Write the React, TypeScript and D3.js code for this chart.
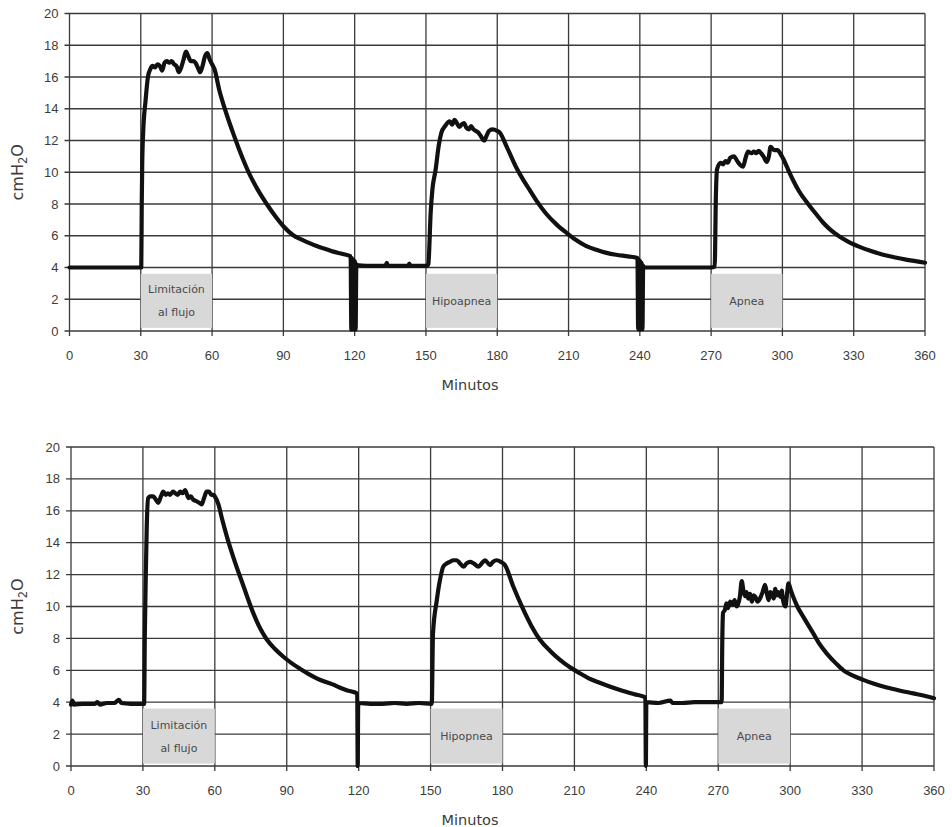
import React from "react";
import * as d3 from "d3";

const xTicks = [0, 30, 60, 90, 120, 150, 180, 210, 240, 270, 300, 330, 360];
const yTicks = [0, 2, 4, 6, 8, 10, 12, 14, 16, 18, 20];

const topSeries: [number, number][] = [
  [0, 4.0], [10, 4.0], [20, 4.0], [30.2, 4.0],
  [30.4, 8.0], [30.6, 10.5], [31, 12.5], [32, 14.5], [33, 16.0], [34, 16.5], [35, 16.7], [36, 16.6], [37, 16.8], [38, 16.7], [39, 16.4], [40, 16.9], [41, 17.0], [42, 16.9], [43, 17.0], [44, 16.8], [45, 16.7], [46, 16.3], [47, 16.6], [48, 17.1], [49, 17.6], [50, 17.3], [51, 17.0], [52, 17.0], [53, 16.9], [54, 16.6], [55, 16.3], [56, 16.7], [57, 17.3], [58, 17.5], [59, 17.1], [60, 16.8],
  [61, 16.5], [63, 15.2], [66, 13.7], [69, 12.4], [72, 11.2], [76, 9.8], [80, 8.7], [83, 8.0], [86, 7.35], [90, 6.6], [94, 6.05], [97, 5.8], [100, 5.6], [104, 5.35], [108, 5.15], [111, 5.0], [115, 4.85], [118.3, 4.7],
  [118.6, 0.1], [118.9, 4.6], [119.2, 0.1], [119.5, 4.5], [119.8, 0.1], [120.1, 4.4], [120.4, 0.1], [120.7, 4.2], [121, 4.15],
  [125, 4.1], [130, 4.1], [133, 4.1], [133.5, 4.3], [134, 4.1], [140, 4.1], [142.5, 4.1], [143, 4.25], [143.5, 4.1], [150.5, 4.1],
  [151, 4.2], [152, 7.5], [152.7, 8.9], [154, 10.1], [155.5, 11.8], [156.5, 12.5], [158, 12.9], [160, 13.2], [161, 13.0], [162, 13.3], [163, 13.1], [164, 12.85], [165, 13.0], [166, 13.1], [167, 12.8], [168, 12.7], [169, 12.9], [170, 12.7], [171, 12.6], [172, 12.5], [173, 12.3], [174.5, 12.0], [175.5, 12.3], [176.5, 12.6], [178, 12.7], [180, 12.6],
  [181, 12.5], [184, 11.6], [188, 10.3], [191, 9.5], [194, 8.8], [197, 8.1], [200.5, 7.4], [205, 6.7], [209, 6.2], [213, 5.75], [217.5, 5.35], [222, 5.1], [226, 4.92], [230, 4.8], [235, 4.7], [239, 4.6],
  [239.3, 0.1], [239.6, 4.5], [239.9, 0.1], [240.2, 4.4], [240.5, 0.1], [240.8, 4.3], [241.1, 0.1], [241.4, 4.1], [242, 4.0],
  [250, 4.0], [260, 4.0], [270, 4.0], [271.5, 4.05],
  [272, 8.5], [272.5, 10.2], [274, 10.6], [275, 10.5], [276, 10.7], [277, 10.6], [278, 10.9], [279.6, 11.0], [281, 10.7], [282, 10.5], [283.4, 10.35], [284.5, 10.9], [285.5, 11.3], [287, 11.2], [288, 11.3], [289, 11.2], [290, 11.35], [291, 11.2], [292, 11.0], [293.5, 10.65], [294.3, 11.0], [295, 11.6], [296.5, 11.4], [298, 11.4], [299, 11.2], [300.5, 10.8],
  [302, 10.3], [304.5, 9.5], [307, 8.8], [310.5, 8.06], [314, 7.4], [317, 6.85], [320, 6.4], [324, 5.95], [328, 5.6], [332.5, 5.3], [337, 5.05], [342, 4.82], [347, 4.65], [352, 4.5], [356, 4.4], [360, 4.3],
];

const bottomSeries: [number, number][] = [
  [0, 3.85], [0.6, 4.1], [1.2, 3.85], [5, 3.9], [10, 3.9], [11, 4.0], [12, 3.85], [15, 3.95], [18, 3.95], [20, 4.15], [21, 3.95], [25, 3.9], [30.5, 3.9],
  [30.8, 8.3], [31.2, 12], [31.6, 15], [32.2, 16.8], [33, 16.9], [34.3, 16.9], [35.4, 16.7], [36.4, 16.5], [37.5, 16.9], [38.5, 17.2], [39.5, 17.0], [40.5, 17.1], [41.3, 17.0], [42.5, 17.2], [43.5, 17.1], [44.5, 17.0], [45.5, 17.2], [46.5, 17.1], [47.6, 17.3], [49, 16.8], [50, 16.9], [51, 16.7], [52.4, 16.6], [53.5, 16.5], [54.5, 16.4], [55.5, 16.8], [56.6, 17.2], [57.6, 17.2], [58.5, 17.0], [59.4, 17.0], [60, 16.9],
  [61.5, 16.4], [63, 15.5], [65, 14.4], [67.7, 13.1], [71.9, 11.3], [76, 9.6], [79, 8.6], [81.6, 7.95], [85, 7.35], [88.6, 6.85], [92, 6.45], [95.5, 6.1], [99, 5.78], [102.5, 5.5], [106, 5.28], [109.4, 5.1], [112, 4.92], [115, 4.75], [119.4, 4.55],
  [119.6, 0], [119.8, 3.95], [125, 3.9], [130, 3.9], [135, 3.95], [140, 3.9], [145, 3.95], [150.5, 3.9],
  [151, 8.3], [152.6, 10.4], [153.9, 11.65], [155.3, 12.5], [156.7, 12.7], [158, 12.8], [159.5, 12.9], [160.9, 12.9], [162.3, 12.7], [163.7, 12.5], [165, 12.7], [166.5, 12.8], [168, 12.7], [170, 12.5], [171.3, 12.7], [172.7, 12.9], [174.8, 12.6], [176, 12.8], [177.6, 12.9], [179.3, 12.8], [181, 12.6],
  [184.5, 11.25], [188.7, 9.8], [192, 8.8], [195.7, 7.9], [200, 7.2], [204, 6.65], [208, 6.2], [212.4, 5.8], [216, 5.5], [220, 5.25], [225, 4.97], [230, 4.72], [235, 4.5], [239.6, 4.3],
  [239.8, 0], [240, 4.0], [245, 3.95], [250, 4.1], [251, 3.95], [255, 3.95], [260, 4.0], [265, 4.0], [271.4, 4.0],
  [271.7, 8.0], [272, 9.6], [272.8, 9.8], [273.4, 10.2], [274, 9.9], [275, 10.3], [276, 10.1], [276.8, 10.4], [277.7, 10.0], [279, 10.6], [279.8, 11.6], [280.5, 11.0], [281.2, 10.65], [281.8, 10.9], [282.5, 10.5], [283.3, 10.8], [284, 10.3], [284.8, 10.7], [285.5, 10.6], [286.4, 10.3], [287.4, 10.5], [288.5, 10.9], [289.5, 11.35], [290.3, 10.8], [291, 10.4], [291.7, 10.9], [292.4, 10.8], [293.1, 10.5], [293.8, 11.1], [294.4, 10.7], [295, 10.9], [296, 10.6], [296.5, 11.0], [297, 10.4], [298, 10.0], [298.7, 10.8], [299.3, 11.45], [300.3, 11.0], [301.3, 10.6],
  [303, 10.0], [305.5, 9.35], [309.7, 8.3], [312, 7.7], [315.3, 7.05], [319, 6.45], [322.2, 6.0], [326, 5.68], [330.5, 5.4], [335, 5.15], [340.3, 4.92], [346, 4.72], [351.4, 4.55], [356, 4.4], [360, 4.25],
];

type Box = { x0: number; x1: number; y0: number; y1: number; lines: string[] };

const topBoxes: Box[] = [
  { x0: 30, x1: 60, y0: 0.2, y1: 3.6, lines: ["Limitación", "al flujo"] },
  { x0: 150, x1: 180, y0: 0.2, y1: 3.6, lines: ["Hipoapnea"] },
  { x0: 270, x1: 300, y0: 0.2, y1: 3.6, lines: ["Apnea"] },
];
const bottomBoxes: Box[] = [
  { x0: 30, x1: 60, y0: 0.15, y1: 3.6, lines: ["Limitación", "al flujo"] },
  { x0: 150, x1: 180, y0: 0.15, y1: 3.6, lines: ["Hipopnea"] },
  { x0: 270, x1: 300, y0: 0.15, y1: 3.6, lines: ["Apnea"] },
];

const gridColor = "#3a3a3a";
const textColor = "#3c3c3c";

function Panel({ series, boxes, x0, x1, yTop, yBottom }: {
  series: [number, number][]; boxes: Box[]; x0: number; x1: number; yTop: number; yBottom: number;
}) {
  const x = d3.scaleLinear().domain([0, 360]).range([x0, x1]);
  const y = d3.scaleLinear().domain([0, 20]).range([yBottom, yTop]);
  const line = d3.line<[number, number]>().x((d) => x(d[0])).y((d) => y(d[1])).curve(d3.curveMonotoneX);
  const midY = (yTop + yBottom) / 2;
  return (
    <g>
      {yTicks.map((t) => (
        <line key={"h" + t} x1={x0 - 5} x2={x1} y1={y(t)} y2={y(t)} stroke={gridColor} strokeWidth={1.3} />
      ))}
      {xTicks.map((t) => (
        <line key={"v" + t} x1={x(t)} x2={x(t)} y1={yTop} y2={yBottom + 5} stroke={gridColor} strokeWidth={1.3} />
      ))}
      {boxes.map((b, i) => (
        <rect key={"b" + i} x={x(b.x0)} y={y(b.y1)} width={x(b.x1) - x(b.x0)} height={y(b.y0) - y(b.y1)} fill="#d8d8d8" />
      ))}
      {boxes.map((b, i) => {
        const cx = (x(b.x0) + x(b.x1)) / 2;
        const cy = (y(b.y0) + y(b.y1)) / 2;
        const n = b.lines.length;
        return (
          <text key={"t" + i} x={cx} textAnchor="middle" fontFamily="'DejaVu Sans', sans-serif" fontSize={11} fill="#4a4a4a">
            {b.lines.map((l, j) => (
              <tspan key={j} x={cx} y={cy + (j - (n - 1) / 2) * 23 + 4}>{l}</tspan>
            ))}
          </text>
        );
      })}
      <path d={line(series) || ""} fill="none" stroke="#111" strokeWidth={4.2} strokeLinejoin="round" strokeLinecap="round" />
      {yTicks.map((t) => (
        <text key={"yl" + t} x={x0 - 11} y={y(t) + 4.5} textAnchor="end" fontFamily="'Liberation Sans', Arial, sans-serif" fontSize={13} fill={textColor}>{t}</text>
      ))}
      {xTicks.map((t) => (
        <text key={"xl" + t} x={x(t)} y={yBottom + 29} textAnchor="middle" fontFamily="'Liberation Sans', Arial, sans-serif" fontSize={13} fill={textColor}>{t}</text>
      ))}
      <text x={470} y={yBottom + 59} textAnchor="middle" fontFamily="'DejaVu Sans', sans-serif" fontSize={14.5} fill={textColor}>Minutos</text>
      <text transform={`translate(23,${midY}) rotate(-90)`} textAnchor="middle" fontFamily="'DejaVu Sans', sans-serif" fontSize={16} fill={textColor}>
        cmH<tspan dy={4} fontSize={11.5}>2</tspan><tspan dy={-4}>O</tspan>
      </text>
    </g>
  );
}

export default function App() {
  return (
    <svg width={952} height={827} style={{ position: "absolute", left: 0, top: 0, background: "#fff" }}>
      <rect x={0} y={0} width={952} height={827} fill="#fff" />
      <Panel series={topSeries} boxes={topBoxes} x0={69.5} x1={925} yTop={13.5} yBottom={331} />
      <Panel series={bottomSeries} boxes={bottomBoxes} x0={71} x1={934} yTop={447} yBottom={766} />
    </svg>
  );
}
